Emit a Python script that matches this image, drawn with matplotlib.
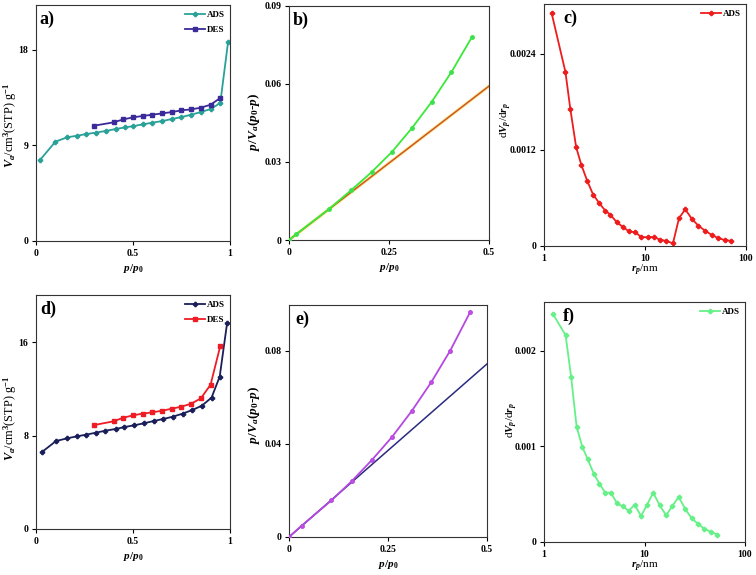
import matplotlib
matplotlib.use("Agg")
import matplotlib.pyplot as plt
from matplotlib.ticker import FixedLocator

# ---- data ----
# a) isotherm
a_ads_x = [0.02, 0.10, 0.16, 0.21, 0.26, 0.31, 0.36, 0.41, 0.46, 0.50,
           0.55, 0.60, 0.65, 0.70, 0.75, 0.80, 0.85, 0.90, 0.95, 0.99]
a_ads_y = [7.6, 9.34, 9.75, 9.9, 10.06, 10.2, 10.35, 10.53, 10.69, 10.8,
           10.97, 11.13, 11.28, 11.47, 11.66, 11.88, 12.13, 12.41, 12.98, 18.7]
a_des_x = [0.30, 0.40, 0.45, 0.50, 0.55, 0.60, 0.65, 0.70, 0.75, 0.80, 0.85, 0.90, 0.95]
a_des_y = [10.85, 11.16, 11.44, 11.63, 11.76, 11.88, 12.0, 12.13, 12.29, 12.38, 12.54, 12.82, 13.45]

# b) BET plot
b_x = [0.0, 0.0175, 0.099, 0.155, 0.207, 0.258, 0.3075, 0.357, 0.406, 0.457]
b_y = [0.0, 0.0022, 0.0118, 0.0191, 0.0262, 0.034, 0.0431, 0.0532, 0.0646, 0.078]
b_fit_x = [0.0, 0.5]
b_fit_y = [0.0, 0.0592]

# c) pore size distribution
c_x = [1.19, 1.63, 1.82, 2.08, 2.34, 2.67, 3.06, 3.51, 4.03, 4.55, 5.26, 6.03,
       6.92, 7.99, 9.16, 10.6, 12.2, 14.0, 16.2, 18.9, 21.7, 25.0, 29.1, 33.7,
       39.2, 45.7, 52.7, 61.4, 71.6]
c_y = [0.002904, 0.002171, 0.001713, 0.001233, 0.001013, 0.000817, 0.000642,
       0.000538, 0.000442, 0.000388, 0.000296, 0.000238, 0.000183, 0.000171,
       0.000113, 0.000108, 0.000113, 0.000079, 0.000063, 0.000033, 0.000346,
       0.000458, 0.000338, 0.000254, 0.000192, 0.000138, 0.0001, 0.000075, 0.000063]

# d) isotherm
d_ads_x = [0.031, 0.103, 0.16, 0.21, 0.26, 0.31, 0.358, 0.41, 0.456, 0.506,
           0.556, 0.608, 0.656, 0.706, 0.756, 0.806, 0.855, 0.905, 0.947, 0.985]
d_ads_y = [6.6, 7.54, 7.77, 7.94, 8.09, 8.26, 8.43, 8.57, 8.74, 8.89,
           9.06, 9.26, 9.43, 9.63, 9.89, 10.2, 10.57, 11.26, 13.06, 17.63]
d_des_x = [0.30, 0.40, 0.45, 0.50, 0.55, 0.60, 0.65, 0.70, 0.75, 0.80, 0.85, 0.90, 0.95]
d_des_y = [8.91, 9.23, 9.54, 9.74, 9.89, 10.0, 10.14, 10.31, 10.49, 10.74, 11.2, 12.37, 15.69]

# e) BET plot
e_x = [0.0, 0.032, 0.107, 0.158, 0.209, 0.26, 0.31, 0.359, 0.407, 0.457]
e_y = [0.0, 0.00486, 0.0157, 0.0239, 0.033, 0.0429, 0.0541, 0.0664, 0.08, 0.0964]
e_fit_x = [0.0, 0.5]
e_fit_y = [0.0, 0.0743]

# f) pore size distribution
f_x = [1.22, 1.64, 1.86, 2.11, 2.41, 2.72, 3.12, 3.55, 4.05, 4.64, 5.33, 6.06,
       6.96, 7.98, 9.23, 10.6, 12.2, 14.2, 16.4, 18.9, 21.9, 25.5, 29.5, 34.1,
       39.4, 45.9, 53.1]
f_y = [0.002385, 0.00216, 0.001726, 0.001205, 0.00099, 0.000865, 0.000715,
       0.000611, 0.000517, 0.000514, 0.000403, 0.000372, 0.000326, 0.000389,
       0.000271, 0.000389, 0.000514, 0.000382, 0.000278, 0.000375, 0.000472,
       0.00034, 0.000247, 0.000188, 0.000139, 0.000104, 0.0000764]

# ---- style ----
plt.rcParams["font.family"] = "Liberation Serif"
plt.rcParams["font.weight"] = "bold"
plt.rcParams["mathtext.fontset"] = "custom"
plt.rcParams["mathtext.rm"] = "Liberation Serif:bold"
plt.rcParams["mathtext.it"] = "Liberation Serif:bold:italic"
plt.rcParams["mathtext.bf"] = "Liberation Serif:bold"

TICK_FS = 7
LABEL_FS = 8

fig = plt.figure(figsize=(7.56, 5.75), dpi=100)

ax_a = fig.add_axes([0.0476, 0.5809, 0.2566, 0.4104])
ax_b = fig.add_axes([0.3823, 0.5826, 0.2646, 0.4070])
ax_c = fig.add_axes([0.7196, 0.5722, 0.2672, 0.4209])
ax_d = fig.add_axes([0.0476, 0.0800, 0.2566, 0.4070])
ax_e = fig.add_axes([0.3823, 0.0661, 0.2619, 0.4035])
ax_f = fig.add_axes([0.7196, 0.0574, 0.2659, 0.4174])


def style_axis(ax, tag, tx, ylab_xy):
    ax.tick_params(labelsize=TICK_FS, direction="out", length=3, width=0.8, pad=2.5)
    for s in ax.spines.values():
        s.set_linewidth(0.8)
        s.set_color("#333333")
    for lab in ax.get_xticklabels() + ax.get_yticklabels():
        lab.set_fontweight("bold")
    ax.yaxis.set_label_coords(*ylab_xy)
    ax.text(tx, 0.975, tag, transform=ax.transAxes, fontsize=13,
            fontweight="bold", ha="left", va="top")


def legend(ax):
    ax.legend(loc="upper right", frameon=False, fontsize=6.5, handlelength=2.2,
              borderaxespad=0.2, labelspacing=0.8, handletextpad=0.2)


# a) isotherm
ax_a.plot(a_ads_x, a_ads_y, color="#2aa198", marker="P", markersize=3,
          linewidth=1.3, label="ADS")
ax_a.plot(a_des_x, a_des_y, color="#3a2a9a", marker="s", markersize=3,
          linewidth=1.3, label="DES")
ax_a.set_xlim(0, 1)
ax_a.set_ylim(0, 22.2)
ax_a.xaxis.set_major_locator(FixedLocator([0, 0.5, 1]))
ax_a.yaxis.set_major_locator(FixedLocator([0, 9, 18]))
ax_a.set_xticklabels(["0", "0.5", "1"])
ax_a.set_yticklabels(["0", "9", "18"])
ax_a.set_xlabel(r"$p/p_0$", fontsize=LABEL_FS, labelpad=3)
ax_a.set_ylabel(r"$V_a$/cm$^3$(STP) g$^{-1}$", fontsize=8.8)
legend(ax_a)
style_axis(ax_a, "a)", 0.02, (-0.086, 0.49))

# b) BET
ax_b.plot(b_fit_x, b_fit_y, color="#f4ec9a", linewidth=2.4, zorder=1)
ax_b.plot(b_fit_x, b_fit_y, color="#d2541e", linewidth=1.1, zorder=2)
ax_b.plot(b_x, b_y, color="#3ae83a", marker="o", markersize=2.5,
          markerfacecolor="#44cc88", linewidth=1.3, zorder=3)
ax_b.set_xlim(0, 0.5)
ax_b.set_ylim(0, 0.09)
ax_b.xaxis.set_major_locator(FixedLocator([0, 0.25, 0.5]))
ax_b.yaxis.set_major_locator(FixedLocator([0, 0.03, 0.06, 0.09]))
ax_b.set_xticklabels(["0", "0.25", "0.5"])
ax_b.set_yticklabels(["0", "0.03", "0.06", "0.09"])
ax_b.set_xlabel(r"$p/p_0$", fontsize=LABEL_FS, labelpad=3)
ax_b.set_ylabel(r"$p/V_a(p_0$-$p)$", fontsize=9.5)
style_axis(ax_b, "b)", 0.02, (-0.135, 0.505))

# c) PSD
ax_c.plot(c_x, c_y, color="#ee1c1c", marker="P", markersize=3,
          linewidth=1.3, label="ADS")
ax_c.set_xscale("log")
ax_c.set_xlim(1, 100)
ax_c.set_ylim(0, 0.00302)
ax_c.xaxis.set_major_locator(FixedLocator([1, 10, 100]))
ax_c.xaxis.set_minor_locator(FixedLocator([]))
ax_c.yaxis.set_major_locator(FixedLocator([0, 0.0012, 0.0024]))
ax_c.set_xticklabels(["1", "10", "100"])
ax_c.set_yticklabels(["0", "0.0012", "0.0024"])
ax_c.set_xlabel(r"$r_p$/nm", fontsize=LABEL_FS, labelpad=0)
ax_c.set_ylabel(r"d$V_p$/d$r_p$", fontsize=LABEL_FS)
legend(ax_c)
style_axis(ax_c, "c)", 0.094, (-0.149, 0.52))

# d) isotherm
ax_d.plot(d_ads_x, d_ads_y, color="#1a1f5a", marker="P", markersize=3,
          linewidth=1.3, label="ADS")
ax_d.plot(d_des_x, d_des_y, color="#ee1c25", marker="s", markersize=3.5,
          linewidth=1.3, label="DES")
ax_d.set_xlim(0, 1)
ax_d.set_ylim(0, 20.06)
ax_d.xaxis.set_major_locator(FixedLocator([0, 0.5, 1]))
ax_d.yaxis.set_major_locator(FixedLocator([0, 8, 16]))
ax_d.set_xticklabels(["0", "0.5", "1"])
ax_d.set_yticklabels(["0", "8", "16"])
ax_d.set_xlabel(r"$p/p_0$", fontsize=LABEL_FS, labelpad=3)
ax_d.set_ylabel(r"$V_a$/cm$^3$(STP) g$^{-1}$", fontsize=8.8)
legend(ax_d)
style_axis(ax_d, "d)", 0.02, (-0.086, 0.474))

# e) BET
ax_e.plot(e_fit_x, e_fit_y, color="#2a2a80", linewidth=1.1, zorder=2)
ax_e.plot(e_x, e_y, color="#b548e0", marker="o", markersize=2.5,
          markerfacecolor="#cc55dd", linewidth=1.3, zorder=3)
ax_e.set_xlim(0, 0.5)
ax_e.set_ylim(0, 0.0996)
ax_e.xaxis.set_major_locator(FixedLocator([0, 0.25, 0.5]))
ax_e.yaxis.set_major_locator(FixedLocator([0, 0.04, 0.08]))
ax_e.set_xticklabels(["0", "0.25", "0.5"])
ax_e.set_yticklabels(["0", "0.04", "0.08"])
ax_e.set_xlabel(r"$p/p_0$", fontsize=LABEL_FS, labelpad=3)
ax_e.set_ylabel(r"$p/V_a(p_0$-$p)$", fontsize=9.5)
style_axis(ax_e, "e)", 0.03, (-0.136, 0.526))

# f) PSD
ax_f.plot(f_x, f_y, color="#66f088", marker="P", markersize=3,
          linewidth=1.3, label="ADS")
ax_f.set_xscale("log")
ax_f.set_xlim(1, 100)
ax_f.set_ylim(0, 0.002507)
ax_f.xaxis.set_major_locator(FixedLocator([1, 10, 100]))
ax_f.xaxis.set_minor_locator(FixedLocator([]))
ax_f.yaxis.set_major_locator(FixedLocator([0, 0.001, 0.002]))
ax_f.set_xticklabels(["1", "10", "100"])
ax_f.set_yticklabels(["0", "0.001", "0.002"])
ax_f.set_xlabel(r"$r_p$/nm", fontsize=LABEL_FS, labelpad=0)
ax_f.set_ylabel(r"d$V_p$/d$r_p$", fontsize=LABEL_FS)
legend(ax_f)
style_axis(ax_f, "f)", 0.094, (-0.119, 0.508))

fig.savefig("out.png", dpi=100)
